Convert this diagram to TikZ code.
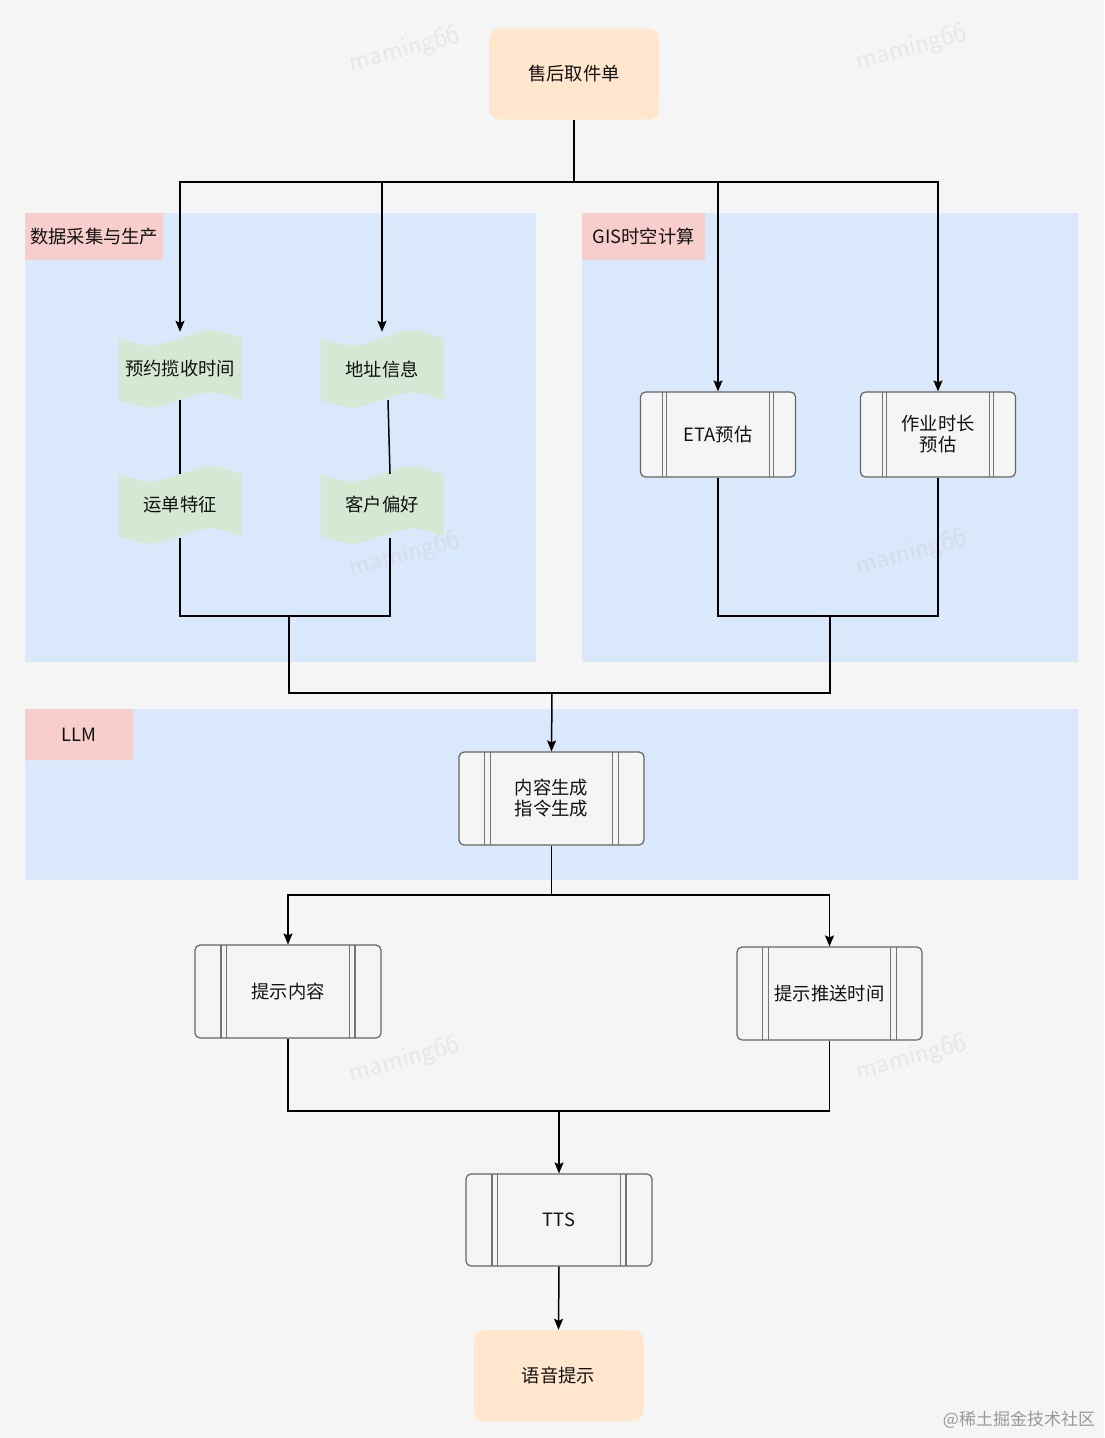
\documentclass[tikz,border=0pt]{standalone}
\usepackage{fontspec}
\setmainfont{Noto Sans CJK SC}
\usetikzlibrary{arrows.meta,calc}
\definecolor{bgc}{HTML}{F5F5F5}
\definecolor{grpc}{HTML}{DAE8FC}
\definecolor{labc}{HTML}{F8CECC}
\definecolor{peach}{HTML}{FFE6CC}
\definecolor{tapec}{HTML}{D5E8D4}
\definecolor{boxline}{HTML}{666666}
\definecolor{procfill}{HTML}{F5F5F5}
\definecolor{txtc}{HTML}{111111}
\newcommand\tapeat[4]{%
  \fill[tapec] (#1-61.5,#2-31) .. controls (#1-30,#2-21) .. (#1,#2-31) .. controls (#1+30,#2-41) .. (#1+61.5,#2-31)
    -- (#1+61.5,#2+31) .. controls (#1+30,#2+21) .. (#1,#2+31) .. controls (#1-30,#2+41) .. (#1-61.5,#2+31) -- cycle;
  \node[tapetxt] (#3) at (#1,#2) {#4};
}
\begin{document}
\begin{tikzpicture}[x=1pt,y=-1pt,
  every node/.style={font=\fontsize{18.3pt}{21pt}\selectfont, text=txtc},
  grp/.style={fill=grpc},
  grplab/.style={fill=labc, inner sep=0, anchor=north west},
  peachbox/.style={fill=peach, rounded corners=10pt, minimum width=170pt, minimum height=91pt, inner sep=0},
  tapetxt/.style={minimum width=123pt, minimum height=74pt, inner sep=0},
  procbox/.style={draw=boxline, fill=procfill, rounded corners=5pt, line width=1.2pt, align=center, inner sep=0,
    path picture={
      \foreach \f in {0.14,0.168,0.832,0.86}{
        \draw[boxline!90, line width=1.1pt] ($(path picture bounding box.north west)!\f!(path picture bounding box.north east)$) --
          ($(path picture bounding box.south west)!\f!(path picture bounding box.south east)$);
      }
    }},
  conn/.style={draw=black, line width=1.5pt},
  arr/.style={conn, -{Stealth[length=11pt,width=9pt,inset=2pt]}},
  wm/.style={text=black!25, opacity=0.25, rotate=15, font=\sffamily\fontsize{28pt}{30pt}\selectfont}
]
\useasboundingbox (0,0) rectangle (1104,1438);
\fill[bgc] (0,0) rectangle (1104,1438);

% groups
\fill[grp] (25,213) rectangle (536,662);
\fill[grp] (582,213) rectangle (1078,662);
\fill[grp] (25,709) rectangle (1078,880);
\node[grplab, minimum width=138pt, minimum height=47pt] (g1) at (25,213) {数据采集与生产};
\node[grplab, minimum width=123pt, minimum height=47pt] (g2) at (582,213) {GIS时空计算};
\node[grplab, minimum width=108pt, minimum height=51pt] (g3) at (25,709) {LLM};

% watermarks
\node[wm] (w1) at (405,50) {maming66};
\node[wm] (w2) at (912,48) {maming66};
\node[wm] (w3) at (405,555) {maming66};
\node[wm] (w4) at (912,553) {maming66};
\node[wm] (w5) at (405,1060) {maming66};
\node[wm] (w6) at (912,1058) {maming66};

% nodes
\node[peachbox] (start) at (574,74) {售后取件单};
\tapeat{180}{369}{t1}{预约揽收时间}
\tapeat{382}{369}{t2}{地址信息}
\tapeat{180}{505}{t3}{运单特征}
\tapeat{382}{505}{t4}{客户偏好}
\node[procbox, minimum width=155pt, minimum height=85pt] (eta) at (718,434.5) {ETA预估};
\node[procbox, minimum width=155pt, minimum height=85pt] (work) at (938,434.5) {作业时长\\预估};
\node[procbox, minimum width=185pt, minimum height=93pt] (llm) at (551.5,798.5) {内容生成\\指令生成};
\node[procbox, minimum width=186pt, minimum height=93pt] (p1) at (288,991.5) {提示内容};
\node[procbox, minimum width=185pt, minimum height=93pt] (p2) at (829.5,993.5) {提示推送时间};
\node[procbox, minimum width=186pt, minimum height=92pt] (tts) at (559,1220) {TTS};
\node[peachbox] (end) at (558.5,1375.5) {语音提示};

% connectors
\coordinate (s1) at (574,182);
\draw[conn] (start.south) -- (s1);
\draw[arr] (s1) -| (t1.north);
\draw[arr] (s1) -| (t2.north);
\draw[arr] (s1) -| (eta.north);
\draw[arr] (s1) -| (work.north);

\coordinate (t1b) at ([yshift=6pt]t1.south);
\coordinate (t3t) at ([yshift=-6pt]t3.north);
\draw[conn] (t1b) -- (t3t);
\coordinate (t2b) at ([xshift=6pt,yshift=6pt]t2.south);
\coordinate (t4t) at ([xshift=8pt,yshift=-6pt]t4.north);
\draw[conn] (t2b) -- (t4t);

\coordinate (m1) at (289,616);
\coordinate (m2) at (830,616);
\coordinate (j) at (552,693);
\coordinate (t3b) at ([yshift=4pt]t3.south);
\coordinate (t4b) at ([xshift=8pt,yshift=4pt]t4.south);
\draw[conn] (t3b) |- (t4b |- m1) -- (t4b);
\draw[conn] (eta.south) |- (m2) -| (work.south);
\draw[conn] (m1) -- (m1 |- j) -- (m2 |- j) -- (m2);
\draw[arr] (j) -- (llm.north);

\coordinate (s2) at (551.5,895);
\draw[conn] (llm.south) -- (s2);
\draw[arr] (s2) -| (p1.north);
\draw[arr] (s2) -| (p2.north);

\coordinate (m3) at (559,1111);
\draw[conn] (p1.south) |- (m3) -| (p2.south);
\draw[arr] (m3) -- (tts.north);
\draw[arr] (tts.south) -- (end.north);

% site mark
\node[text=black!40, font=\fontsize{17pt}{20pt}\selectfont] (site) at (1019,1420) {@稀土掘金技术社区};
\end{tikzpicture}
\end{document}
